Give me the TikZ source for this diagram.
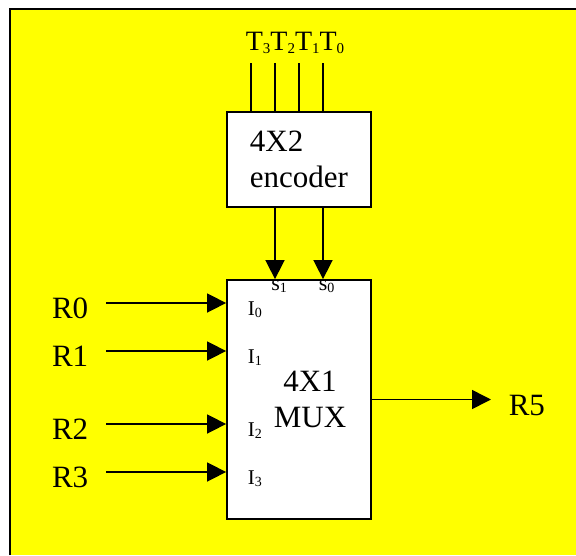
\documentclass[tikz,border=0pt]{standalone}
\usepackage{fontspec}
\setmainfont{Liberation Serif}
\usepackage{tikz}
\usetikzlibrary{arrows.meta,calc}
\usetikzlibrary{positioning}
\definecolor{sheet}{RGB}{255,255,0}
\newcommand{\tsub}[1]{\raisebox{-3pt}{\fontsize{15}{15}\selectfont #1}}
\newcommand{\isub}[1]{\raisebox{-2.5pt}{\fontsize{14}{14}\selectfont #1}}

\begin{document}
\begin{tikzpicture}[x=1pt,y=-1pt,>={Triangle[length=19pt,width=19pt]},
  line width=1.6pt,
  blk/.style={draw,fill=white,line width=1.8pt,inner sep=0pt,font=\fontsize{31}{36}\selectfont},
  sig/.style={inner sep=0pt,inner xsep=17pt,text height=31pt,text depth=0pt,font=\fontsize{31}{36}\selectfont},
  pin/.style={inner sep=0pt,anchor=base west,font=\fontsize{21}{24}\selectfont}]
\useasboundingbox (0,0) rectangle (576,555);
% yellow sheet, border on left and top only
\fill[sheet] (10,9) rectangle (576,555);
\draw[line width=2pt] (10,555) -- (10,9) -- (576,9);
% blocks
\node[blk,minimum width=144pt,minimum height=95pt,align=left] (enc) at (299,159.5) {4X2\\encoder};
\node[blk,minimum width=144pt,minimum height=239pt] (mux) at (299,399.5) {};
\node[inner sep=0pt,align=center,font=\fontsize{31}{36}\selectfont] (muxlbl) at (310,399.5) {4X1\\MUX};
% encoder inputs
\node[inner sep=0pt,anchor=base,font=\fontsize{28}{30}\selectfont] (tlbl) at (295,50) {T\tsub{3}T\tsub{2}T\tsub{1}T\tsub{0}};
\coordinate (t3) at (251,63);
\coordinate (t2) at (275,63);
\coordinate (t1) at (299,63);
\coordinate (t0) at (323,63);
\foreach \t in {t3,t2,t1,t0}
  \draw (\t) -- (\t |- enc.north);
% select lines
\draw[->] ([xshift=-24pt]enc.south) -- ([xshift=-24pt]enc.south |- mux.north);
\draw[->] ([xshift=24pt]enc.south) -- ([xshift=24pt]enc.south |- mux.north);
\node[pin,font=\fontsize{22}{24}\selectfont] (s1) at (270.5,290) {s\isub{1}};
\node[pin,font=\fontsize{22}{24}\selectfont] (s0) at (318,290) {s\isub{0}};
% data inputs
\node[sig,anchor=east] (r0) at (106,303) {R0};
\node[sig,anchor=east] (r1) at (106,351) {R1};
\node[sig,anchor=east] (r2) at (106,424) {R2};
\node[sig,anchor=east] (r3) at (106,472) {R3};
\foreach \r in {r0,r1,r2,r3}
  \draw[->] (\r) -- (\r -| mux.west);
\node[pin] (i0) at (247,315) {I\isub{0}};
\node[pin] (i1) at (247,363) {I\isub{1}};
\node[pin] (i2) at (247,436) {I\isub{2}};
\node[pin] (i3) at (247,484) {I\isub{3}};
% output
\node[sig,anchor=west] (r5) at (491,399.5) {R5};
\draw[->] (mux) -- (r5);
\end{tikzpicture}
\end{document}
